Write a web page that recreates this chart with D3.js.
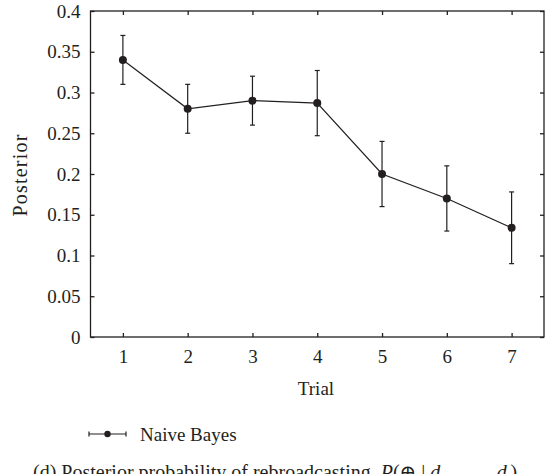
<!DOCTYPE html>
<html><head><meta charset="utf-8">
<script src="https://cdn.jsdelivr.net/npm/d3@7"></script>
<style>body{margin:0;background:#fff}svg{display:block}text{font-family:"Liberation Serif","DejaVu Serif",serif;fill:#231f20}</style>
</head><body>
<svg id="c" width="546" height="474"></svg>
<script>
const trials = [1,2,3,4,5,6,7];
const posterior = [0.34,0.28,0.29,0.287,0.20,0.17,0.134];
const errLow = [0.31,0.25,0.26,0.247,0.16,0.13,0.09];
const errHigh = [0.37,0.31,0.32,0.327,0.24,0.21,0.178];
const yTicks = [0,0.05,0.1,0.15,0.2,0.25,0.3,0.35,0.4];
const yTickLabels = ["0","0.05","0.1","0.15","0.2","0.25","0.3","0.35","0.4"];
const seriesName = "Naive Bayes";

const svg = d3.select("#c");
const L=90.5, R=544, T=11, B=337;
const x = d3.scaleLinear().domain([0.5,7.5]).range([L,R]);
const y = d3.scaleLinear().domain([0,0.4]).range([B,T]);
const ink="#231f20";

svg.append("rect").attr("x",L).attr("y",T).attr("width",R-L).attr("height",B-T)
  .attr("fill","none").attr("stroke",ink).attr("stroke-width",1.3);

const fmtY = (d,i)=>yTickLabels[i];
const gB = svg.append("g").attr("transform",`translate(0,${B})`)
  .call(d3.axisBottom(x).tickValues(trials).tickFormat(d3.format("d")).tickSizeInner(-4).tickSizeOuter(0).tickPadding(13));
const gT = svg.append("g").attr("transform",`translate(0,${T})`)
  .call(d3.axisTop(x).tickValues(trials).tickFormat("").tickSizeInner(-4).tickSizeOuter(0));
const gL = svg.append("g").attr("transform",`translate(${L},0)`)
  .call(d3.axisLeft(y).tickValues(yTicks).tickFormat(fmtY).tickSizeInner(-4).tickSizeOuter(0).tickPadding(10));
const gR = svg.append("g").attr("transform",`translate(${R},0)`)
  .call(d3.axisRight(y).tickValues(yTicks).tickFormat("").tickSizeInner(-4).tickSizeOuter(0));
[gB,gT,gL,gR].forEach(g=>{
  g.select(".domain").remove();
  g.selectAll(".tick line").attr("stroke",ink).attr("stroke-width",1.3);
  g.selectAll(".tick text").attr("font-size",19).attr("fill",ink).style("font-family",'"Liberation Serif",serif');
});

svg.append("path").datum(trials.map((t,i)=>[t,posterior[i]]))
  .attr("d",d3.line().x(d=>x(d[0])).y(d=>y(d[1])))
  .attr("fill","none").attr("stroke",ink).attr("stroke-width",1.2);

const eb = svg.append("g").attr("stroke",ink).attr("stroke-width",1.2);
trials.forEach((t,i)=>{
  eb.append("line").attr("x1",x(t)).attr("x2",x(t)).attr("y1",y(errLow[i])).attr("y2",y(errHigh[i]));
  [errLow[i],errHigh[i]].forEach(v=>eb.append("line").attr("x1",x(t)-2.5).attr("x2",x(t)+2.5).attr("y1",y(v)).attr("y2",y(v)));
});
svg.append("g").selectAll("circle").data(trials).join("circle")
  .attr("cx",d=>x(d)).attr("cy",(d,i)=>y(posterior[i])).attr("r",4).attr("fill",ink);

svg.append("text").attr("x",316).attr("y",395).attr("text-anchor","middle").attr("font-size",19).text("Trial");
svg.append("text").attr("transform",`translate(27,175) rotate(-90)`).attr("text-anchor","middle")
  .attr("font-size",20).attr("letter-spacing",1.2).text("Posterior");

const lg = svg.append("g").attr("stroke",ink).attr("stroke-width",1.2);
lg.append("line").attr("x1",89).attr("x2",126).attr("y1",434).attr("y2",434);
lg.append("line").attr("x1",89).attr("x2",89).attr("y1",431.5).attr("y2",436.5);
lg.append("line").attr("x1",126).attr("x2",126).attr("y1",431.5).attr("y2",436.5);
svg.append("circle").attr("cx",107.5).attr("cy",434).attr("r",3.2).attr("fill",ink);
svg.append("text").attr("x",140).attr("y",441).attr("font-size",19).text(seriesName);

const cap = svg.append("text").attr("x",33).attr("y",479).attr("font-size",20);
cap.append("tspan").text("(d) Posterior probability of rebroadcasting, ");
cap.append("tspan").attr("font-style","italic").text("P");
cap.append("tspan").text("(⊕ | ");
cap.append("tspan").attr("font-style","italic").text("d");
cap.append("tspan").attr("font-size",13).attr("dy",4).text("1");
cap.append("tspan").attr("dy",-4).text(", . . . , ");
cap.append("tspan").attr("font-style","italic").text("d");
cap.append("tspan").attr("font-size",13).attr("font-style","italic").attr("dy",4).text("t");
cap.append("tspan").attr("dy",-4).text(")");
</script>
</body></html>
